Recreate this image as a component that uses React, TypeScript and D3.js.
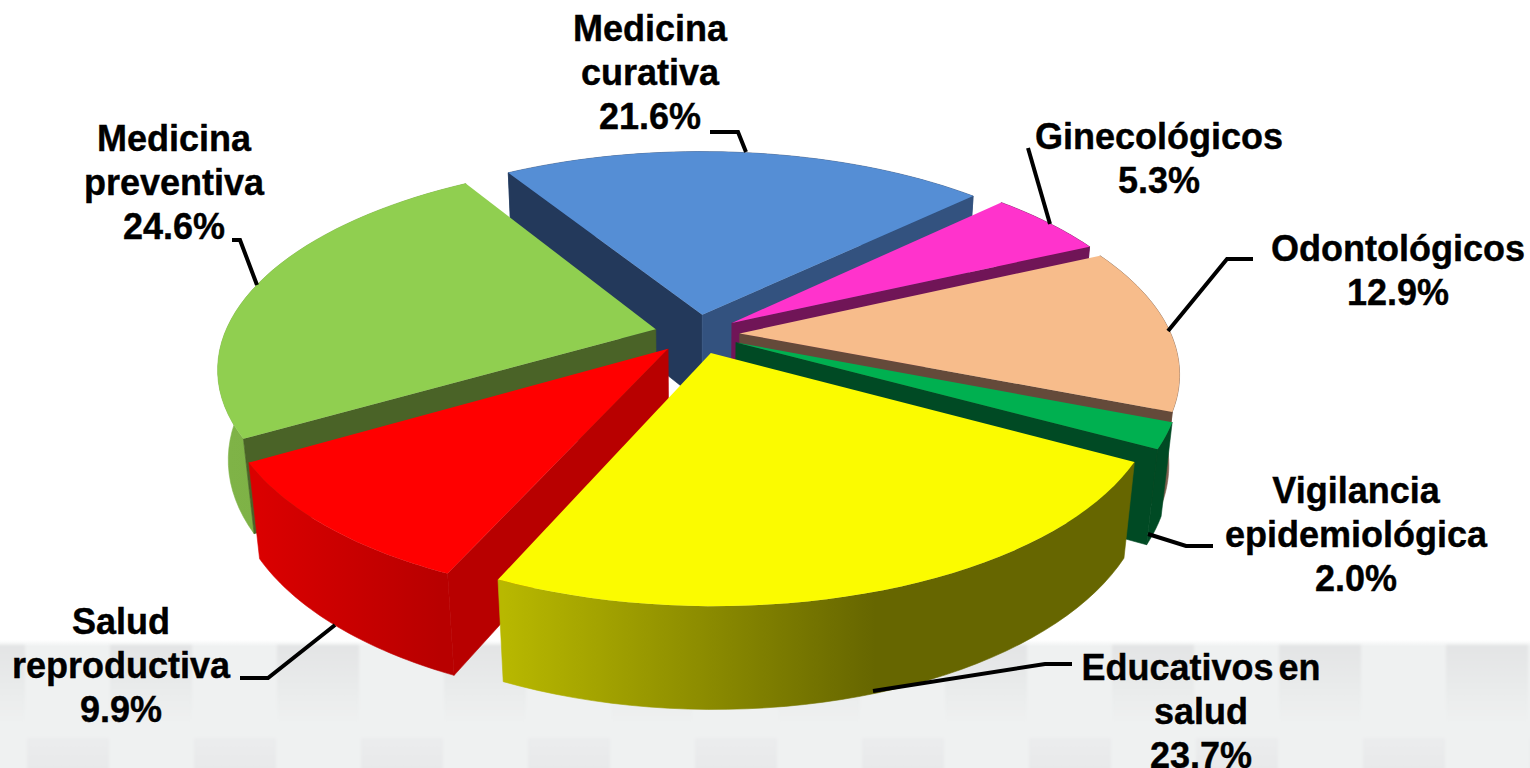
import React from 'react';
import * as d3 from 'd3';

// valores
const categories = [
  'Medicina curativa',
  'Ginecológicos',
  'Odontológicos',
  'Vigilancia epidemiológica',
  'Educativos en salud',
  'Salud reproductiva',
  'Medicina preventiva',
];
const values = [21.6, 5.3, 12.9, 2.0, 23.7, 9.9, 24.6];
const labelLines = [
  ['Medicina', 'curativa'],
  ['Ginecológicos'],
  ['Odontológicos'],
  ['Vigilancia', 'epidemiológica'],
  ['Educativos en', 'salud'],
  ['Salud', 'reproductiva'],
  ['Medicina', 'preventiva'],
];
const topColors = ['#558ed5', '#ff33cc', '#f7bc8b', '#00b050', '#fbfb00', '#ff0000', '#90cf50'];
const startFaceColors = ['#23395b', '#701557', '#644a3a', '#004a24', '#666600', '#b80000', '#4a6327'];
const endFaceColors = ['#33527f', '#701557', '#644a3a', '#004a24', '#666600', '#b80000', '#4a6327'];
const sideStops = [
  ['#33527f', '#33527f'],
  ['#701557', '#701557'],
  ['#7d5f4d', '#7d5f4d'],
  ['#004a24', '#004a24'],
  ['#b8b800', '#666600'],
  ['#da0000', '#b80000'],
  ['#7fb347', '#76aa3e'],
];
// orden de pintado, de atras hacia adelante
const paintOrder = [0, 1, 6, 2, 3, 5, 4];

// posicion de etiquetas y lineas guia
const labelX = [650, 1159, 1398, 1356, 1201, 121, 174];
const labelY = [41, 149, 261, 503, 680, 634, 151];
const leaders = [
  [[710, 132], [738, 132], [746, 152]],
  [[1028, 148], [1050, 224]],
  [[1253, 259], [1227, 259], [1168, 331]],
  [[1213, 546], [1186, 546], [1148, 534]],
  [[1072, 664], [1045, 664], [873, 691]],
  [[240, 678], [268, 678], [335, 625]],
  [[232, 240], [240, 240], [257, 285]],
];

const width = 1530;
const height = 768;
const cx = 697;
const cy = 334;
const rx = 474;
const ry = 219;
const depth = 91;
const persp = 0.2;
const perspZ = 0.022;
const radius = 0.91;
const explode = 0.09;
const rowGap = 44;
const startDeg = -31.7;
const deg = Math.PI / 180;

// plano (u, v, z) a pantalla con perspectiva
const project = (u: number, v: number, z: number): [number, number] => {
  const w = 1 - persp * v + perspZ * z;
  return [cx + (rx * u) / w, cy + (ry * v + depth * z) / w];
};

const pie = d3.pie<number>().sort(null).startAngle(startDeg * deg).endAngle((startDeg + 360) * deg);
const arcs = pie(values);
const line = d3.line();

const slices = arcs.map((a, i) => {
  const mid = (a.startAngle + a.endAngle) / 2;
  const ox = Math.sin(mid) * explode;
  const oy = -Math.cos(mid) * explode;
  const rim = d3.range(0, 41).map((k) => {
    const t = a.startAngle + ((a.endAngle - a.startAngle) * k) / 40;
    return [ox + Math.sin(t) * radius, oy - Math.cos(t) * radius];
  });
  const at = (p: number[], z: number) => project(p[0], p[1], z);
  const apex = [ox, oy];
  const first = rim[0];
  const last = rim[rim.length - 1];
  const quad = (p: number[], q: number[]) =>
    line([at(p, 0), at(q, 0), at(q, 1), at(p, 1)]) + 'Z';
  return {
    i,
    top: line([at(apex, 0), ...rim.map((p) => at(p, 0))]) + 'Z',
    side:
      line([...rim.map((p) => at(p, 0)), ...rim.slice().reverse().map((p) => at(p, 1))]) + 'Z',
    startFace: Math.sin(a.startAngle) < 0 ? quad(apex, first) : null,
    endFace: Math.sin(a.endAngle) > 0 ? quad(apex, last) : null,
    x0: d3.min(rim, (p) => at(p, 1)[0])!,
    x1: d3.max(rim, (p) => at(p, 1)[0])!,
  };
});

// cuadros difusos del fondo
const tiles = d3.range(0, 10).flatMap((k) => [
  { x: 110 + 167 * k - 167, y: 645, h: 78, fill: 'url(#tileHigh)' },
  { x: 27 + 167 * k, y: 738, h: 40, fill: 'url(#tileLow)' },
]);

const pct = d3.format('.1f');

export default function App() {
  return (
    <svg
      width={width}
      height={height}
      viewBox={`0 0 ${width} ${height}`}
      style={{ position: 'absolute', left: 0, top: 0, display: 'block', background: '#fff' }}
    >
      <defs>
        <filter id="soft" x="-10%" y="-10%" width="120%" height="120%">
          <feGaussianBlur stdDeviation="1.5" />
        </filter>
        <linearGradient id="band" x1="0" y1="0" x2="0" y2="1">
          <stop offset="0" stopColor="#eff1f1" stopOpacity="0" />
          <stop offset="0.05" stopColor="#eff1f1" />
          <stop offset="1" stopColor="#eff1f1" />
        </linearGradient>
        <linearGradient id="tileHigh" x1="0" y1="0" x2="0" y2="1">
          <stop offset="0" stopColor="#e3e4e5" />
          <stop offset="0.55" stopColor="#e9ebeb" />
          <stop offset="1" stopColor="#eff1f1" />
        </linearGradient>
        <linearGradient id="tileLow" x1="0" y1="0" x2="0" y2="1">
          <stop offset="0" stopColor="#ebeced" />
          <stop offset="1" stopColor="#e7e8e9" />
        </linearGradient>
        {slices.map((s) => (
          <linearGradient
            key={s.i}
            id={`side-${s.i}`}
            gradientUnits="userSpaceOnUse"
            x1={s.x0}
            x2={s.i === 4 ? 875 : s.i === 5 ? 440 : s.x1}
            y1={0}
            y2={0}
          >
            <stop offset="0" stopColor={sideStops[s.i][0]} />
            <stop offset="1" stopColor={sideStops[s.i][1]} />
          </linearGradient>
        ))}
      </defs>

      <rect x={0} y={640} width={width} height={height - 640} fill="url(#band)" />
      <g filter="url(#soft)">
        {tiles.map((t, k) => (
          <rect key={k} x={t.x} y={t.y} width={82} height={t.h} fill={t.fill} />
        ))}
      </g>

      {paintOrder.map((i) => {
        const s = slices[i];
        return (
          <g key={categories[i]}>
            <path d={s.side} fill={`url(#side-${i})`} stroke={`url(#side-${i})`} strokeWidth={0.6} />
            {s.startFace && (
              <path d={s.startFace} fill={startFaceColors[i]} stroke={startFaceColors[i]} strokeWidth={0.6} />
            )}
            {s.endFace && (
              <path d={s.endFace} fill={endFaceColors[i]} stroke={endFaceColors[i]} strokeWidth={0.6} />
            )}
            <path d={s.top} fill={topColors[i]} />
          </g>
        );
      })}

      <g fill="none" stroke="#000" strokeWidth={4}>
        {leaders.map((pts, i) => (
          <path key={i} d={line(pts as [number, number][])!} />
        ))}
      </g>

      <g
        fontFamily="'Liberation Sans', Arial, sans-serif"
        fontWeight="bold"
        fontSize={36}
        fill="#000"
        stroke="#000"
        strokeWidth={0.4}
        textAnchor="middle"
        wordSpacing={-5}
      >
        {categories.map((c, i) => (
          <text key={c} x={labelX[i]} y={labelY[i]}>
            {[...labelLines[i], `${pct(values[i])}%`].map((t, k) => (
              <tspan key={k} x={labelX[i]} y={labelY[i] + k * rowGap}>
                {t}
              </tspan>
            ))}
          </text>
        ))}
      </g>
    </svg>
  );
}
